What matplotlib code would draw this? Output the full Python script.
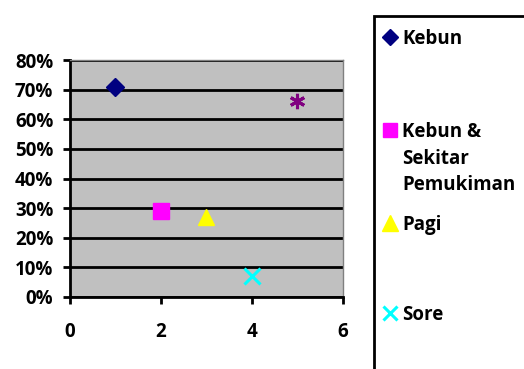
import matplotlib.pyplot as plt
from matplotlib.lines import Line2D
from matplotlib.patches import Rectangle
from matplotlib.ticker import PercentFormatter

# data
series_names = ["Kebun", "Kebun &\nSekitar\nPemukiman", "Pagi", "Sore", ""]
x_vals = [1, 2, 3, 4, 5]
y_vals = [0.71, 0.29, 0.27, 0.07, 0.66]
colors = ["#000080", "#FF00FF", "#FFFF00", "#00FFFF", "#800080"]
markers = ["D", "s", "^", "x", (6, 2, 0)]
sizes = [9, 11, 12, 11, 11]
x_ticks = [0, 2, 4, 6]
y_ticks = [0, 0.1, 0.2, 0.3, 0.4, 0.5, 0.6, 0.7, 0.8]

plt.rcParams['font.family'] = ['Open Sans', 'DejaVu Sans']
plt.rcParams['font.weight'] = 'bold'
fs = 13.5

fig = plt.figure(figsize=(5.24, 3.69), dpi=100)
ax = fig.add_axes([70 / 524, 1 - 297 / 369, 273 / 524, 237 / 369])
ax.set_facecolor("#C0C0C0")

for j in range(len(x_vals)):
    ax.plot(x_vals[j], y_vals[j], linestyle="none", marker=markers[j],
            color=colors[j], markersize=sizes[j], markeredgewidth=2.2 if j >= 3 else 1,
            zorder=3)

ax.set_xlim(0, 6)
ax.set_ylim(0, 0.8)
ax.set_xticks(x_ticks)
ax.set_yticks(y_ticks)
ax.yaxis.set_major_formatter(PercentFormatter(1.0, decimals=0))
ax.grid(axis="y", color="black", linewidth=2)
ax.set_axisbelow(True)

for s in ["left", "bottom"]:
    ax.spines[s].set_linewidth(2)
    ax.spines[s].set_color("black")
for s in ["top", "right"]:
    ax.spines[s].set_linewidth(1)
    ax.spines[s].set_color("#808080")
ax.tick_params(axis="both", direction="out", length=5, width=2, labelsize=fs)
ax.tick_params(axis="x", pad=13)
ax.tick_params(axis="y", pad=7)
for lab in ax.get_xticklabels() + ax.get_yticklabels():
    lab.set_fontweight("bold")

# legend box (cut off at the right and bottom edge)
fig.patches.append(Rectangle((374 / 524, -0.05), 0.4, 1 - 16 / 369 + 0.05,
                             transform=fig.transFigure, fill=False,
                             edgecolor="black", linewidth=2))
leg_y = [37, 130, 223, 313]
for j in range(4):
    fy = 1 - leg_y[j] / 369
    fig.add_artist(Line2D([390 / 524], [fy], transform=fig.transFigure,
                          marker=markers[j], color=colors[j], linestyle="none",
                          markersize=sizes[j] * 0.95,
                          markeredgewidth=2.2 if j >= 3 else 1))
    fig.text(402 / 524, fy + 8 / 369, series_names[j], ha="left", va="top",
             fontsize=fs, fontweight="bold", linespacing=1.45)

plt.savefig("out.png")
